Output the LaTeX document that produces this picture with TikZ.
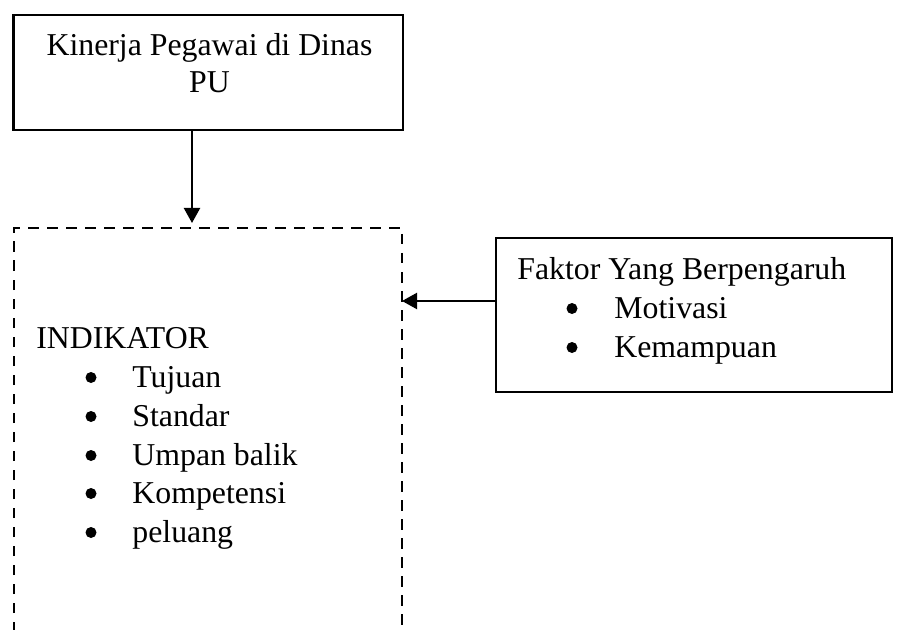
\documentclass[tikz,border=0pt]{standalone}
\usepackage{fontspec}
\setmainfont{Liberation Serif}
\usetikzlibrary{arrows.meta}
\tikzset{
  box/.style={draw, line width=1.1pt, rectangle, inner sep=0pt},
  txt/.style={inner sep=0pt, font=\fontsize{15.9}{19}\selectfont},
  bul/.style={circle, fill, inner sep=0pt, minimum size=5.5pt},
  dashbox/.style={line width=1.2pt, dash pattern=on 5.25pt off 4.25pt},
  arr/.style={line width=1.1pt, -{Triangle[length=7.5pt,width=8pt]}},
}
\begin{document}
\begin{tikzpicture}[x=0.5pt,y=-0.5pt]
\useasboundingbox (0,0) rectangle (897,630);
% top box
\node[box, minimum width=194.75pt, minimum height=57.5pt] (kin) at (208.25,72.5) {};
\node[txt, anchor=base] (k1) at (209.5,56) {Kinerja Pegawai di Dinas};
\node[txt, anchor=base] (k2) at (209.5,93) {PU};
% dashed box (open at the bottom)
\coordinate (dbl) at (14,632);
\coordinate (dtl) at (14,228);
\coordinate (dtr) at (402,228);
\coordinate (dbr) at (402,632);
\draw[dashbox] (dbl) -- (dtl) -- (dtr) -- (dbr);
\node[txt, anchor=base west] (ind) at (36,348) {INDIKATOR};
\foreach \t/\y [count=\i] in {Tujuan/387, Standar/426, Umpan balik/465, Kompetensi/503, peluang/542}{
  \node[bul] (ib\i) at (91,\y-9.5) {};
  \node[txt, anchor=base west] (it\i) at (132,\y) {\t};
}
% right box
\node[box, minimum width=198pt, minimum height=77pt] (fak) at (694,315) {};
\node[txt, anchor=base west] (f0) at (517,279) {Faktor Yang Berpengaruh};
\node[bul] (fb1) at (572,308.5) {};
\node[txt, anchor=base west] (f1) at (614,318) {Motivasi};
\node[bul] (fb2) at (572,347.5) {};
\node[txt, anchor=base west] (f2) at (614,357) {Kemampuan};
% arrows
\coordinate (tipA) at (192,223);
\coordinate (tipB) at (402,301);
\draw[arr] (kin.south -| tipA) -- (tipA);
\draw[arr] (fak.west |- tipB) -- (tipB);
\end{tikzpicture}
\end{document}
